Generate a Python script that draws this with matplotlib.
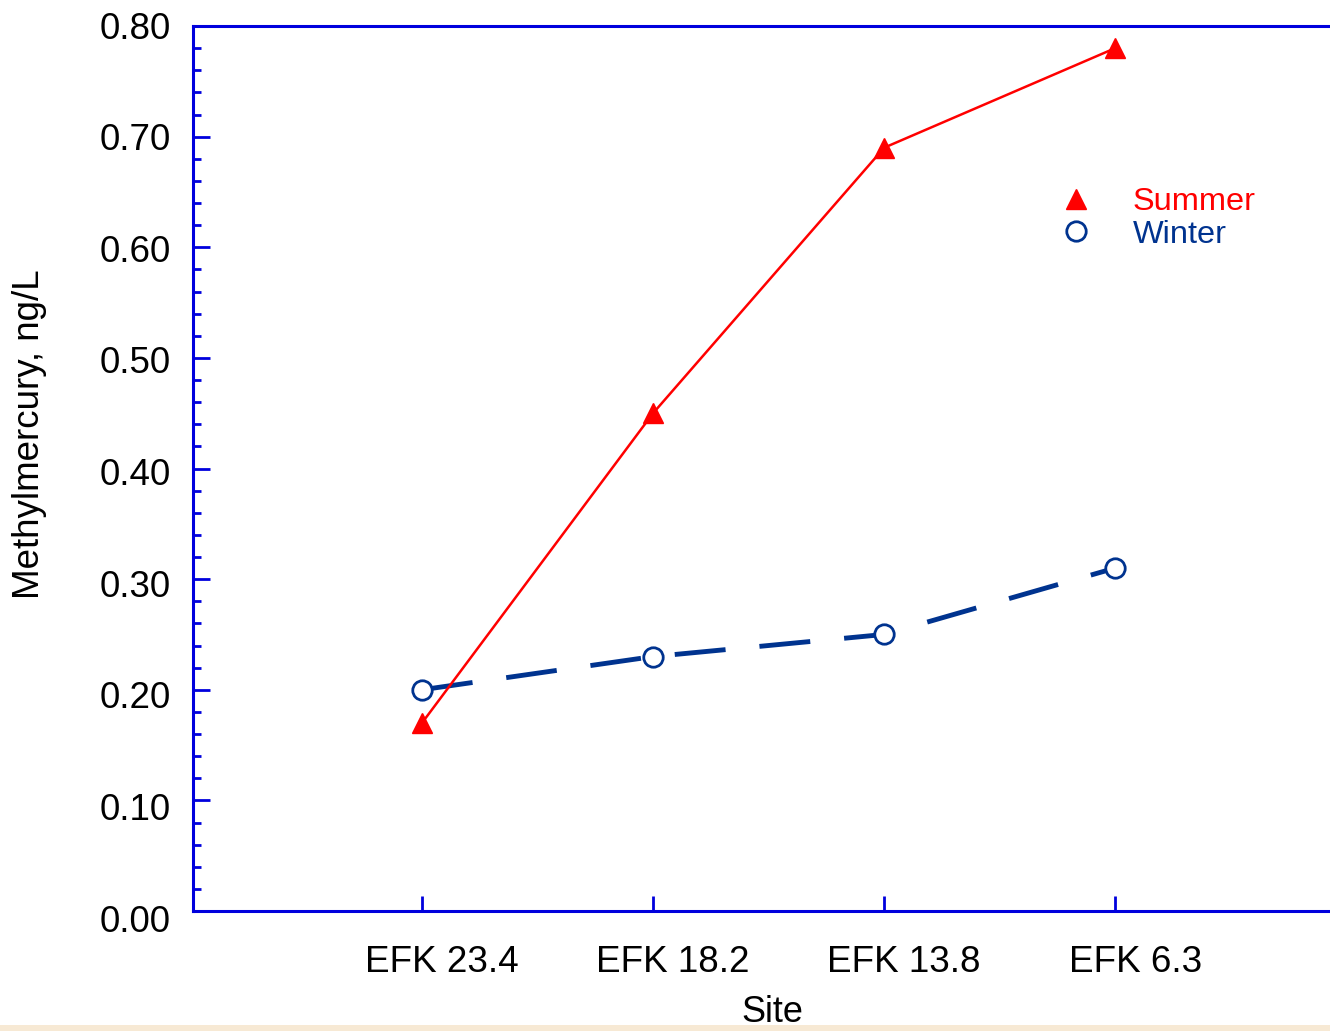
import matplotlib
matplotlib.use("Agg")
import matplotlib.pyplot as plt
from matplotlib.lines import Line2D
from matplotlib.patches import Rectangle
import matplotlib.transforms as mtransforms
import numpy as np

plt.rcParams['font.family'] = ['Liberation Sans', 'DejaVu Sans']

sites = ["EFK 23.4", "EFK 18.2", "EFK 13.8", "EFK 6.3"]
summer = [0.17, 0.45, 0.69, 0.78]
winter = [0.20, 0.23, 0.25, 0.31]
yticks = [0.0, 0.1, 0.2, 0.3, 0.4, 0.5, 0.6, 0.7, 0.8]

RED = '#FF0000'
NAVY = '#00338F'
BLUE = '#0000DD'

W, H = 1330, 1031
fig = plt.figure(figsize=(W/100, H/100), dpi=100)
fig.patch.set_facecolor('white')
ax = fig.add_axes([193/W, 1-911/H, (1351-193)/W, (911-26)/H])

x = np.arange(1, len(sites)+1)
ax.plot(x, winter, color=NAVY, lw=3.5, dashes=(10.5, 7), marker='o', ms=14,
        mfc='white', mec=NAVY, mew=2, zorder=3)
ax.plot(x, summer, color=RED, lw=1.8, marker='^', ms=14, mfc=RED, mec=RED, zorder=4)

ax.set_xlim(0.009, 5.02)
ax.set_ylim(0, 0.8)
ax.set_xticks(x)
ax.set_xticklabels(sites)
ax.set_yticks(yticks)
ax.set_yticklabels([f"{v:.2f}" for v in yticks])
ax.set_yticks(np.arange(0, 0.8001, 0.02), minor=True)

ax.spines['right'].set_visible(False)
for s in ['left', 'top', 'bottom']:
    ax.spines[s].set_color(BLUE)
    ax.spines[s].set_linewidth(2.2)

ax.tick_params(axis='y', which='major', direction='in', length=12, width=2, color=BLUE,
               labelsize=26.5, pad=16, labelcolor='black')
ax.tick_params(axis='y', which='minor', direction='in', length=6, width=2, color=BLUE)
ax.tick_params(axis='x', which='major', direction='in', length=11, width=2, color=BLUE,
               labelsize=26.6, pad=22, labelcolor='black')

# small offsets of tick labels as in the reference
for lab, v in zip(ax.get_yticklabels(), yticks):
    dy = -((0.8 - v) / 0.8 * 8 - 1) / 100
    lab.set_transform(lab.get_transform() + mtransforms.ScaledTranslation(0, dy, fig.dpi_scale_trans))
for lab in ax.get_xticklabels():
    lab.set_transform(lab.get_transform() + mtransforms.ScaledTranslation(0.20, -0.03, fig.dpi_scale_trans))

ax.set_ylabel("Methylmercury, ng/L", fontsize=26.5)
ax.yaxis.set_label_coords(-(193-30)/(1351-193), (911-434)/(911-26))
ax.set_xlabel("Site", fontsize=26)
ax.xaxis.set_label_coords((772-193)/(1351-193), -(1012-911)/(911-26))
ax.xaxis.label.set_va('center')
ax.yaxis.label.set_va('center')

handles = [Line2D([], [], ls='none', marker='^', ms=14, color=RED),
           Line2D([], [], ls='none', marker='o', ms=14, mfc='white', mec=NAVY, mew=2)]
leg = ax.legend(handles, ["Summer", "Winter"], loc='upper left', frameon=False,
                bbox_to_anchor=(1056/W, 1-187/H), bbox_transform=fig.transFigure,
                fontsize=23.4, handletextpad=1.17, labelspacing=0.08, handlelength=1.2,
                borderaxespad=0, borderpad=0)
for t, c in zip(leg.get_texts(), [RED, NAVY]):
    t.set_color(c)

fig.patches.append(Rectangle((0, 0), 1, 6/H, transform=fig.transFigure,
                             facecolor='#F7E9D4', edgecolor='none', zorder=-1))

fig.savefig("out.png", dpi=100)
